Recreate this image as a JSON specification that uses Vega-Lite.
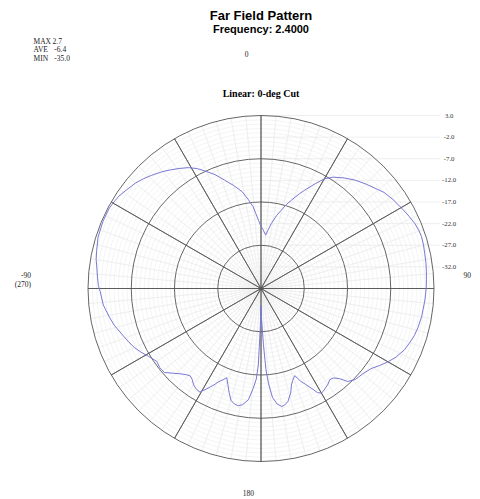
{
  "$schema": "https://vega.github.io/schema/vega-lite/v6.json",
  "width": 346,
  "height": 346,
  "autosize": "none",
  "padding": {"left": 88, "top": 115.5, "right": 46, "bottom": 37.5},
  "background": "white",
  "config": {"view": {"stroke": null}},
  "title": {"text": "Far Field Pattern", "subtitle": "Frequency: 2.4000", "font": "Liberation Sans", "fontSize": 13, "fontWeight": "bold", "color": "#000000", "subtitleFont": "Liberation Sans", "subtitleFontSize": 11, "subtitleFontWeight": "bold", "subtitleColor": "#000000", "anchor": "middle", "frame": "group", "offset": 3, "subtitlePadding": 1},
  "datasets": {
    "curve": [
      {"ang": 0, "db": -22.6}, {"ang": 2, "db": -23.4}, {"ang": 5, "db": -24.6}, {"ang": 7, "db": -23.3}, {"ang": 9, "db": -21.8},
      {"ang": 12, "db": -19.8}, {"ang": 14.5, "db": -18.3}, {"ang": 17, "db": -16.6}, {"ang": 19, "db": -15.4}, {"ang": 22, "db": -13.4},
      {"ang": 24, "db": -12.1}, {"ang": 27, "db": -10.0}, {"ang": 30, "db": -7.7}, {"ang": 33, "db": -6.3}, {"ang": 37, "db": -5.0},
      {"ang": 41, "db": -3.8}, {"ang": 45, "db": -2.8}, {"ang": 49, "db": -1.8}, {"ang": 52, "db": -0.9}, {"ang": 56, "db": -0.2},
      {"ang": 60, "db": 0.4}, {"ang": 64, "db": 1.1}, {"ang": 67, "db": 1.6}, {"ang": 70, "db": 1.9}, {"ang": 72, "db": 2.0},
      {"ang": 75, "db": 1.9}, {"ang": 78, "db": 1.7}, {"ang": 81, "db": 1.6}, {"ang": 84, "db": 1.45}, {"ang": 87, "db": 1.3},
      {"ang": 90, "db": 1.2}, {"ang": 94, "db": 1.0}, {"ang": 100, "db": 0.7}, {"ang": 104, "db": 0.4}, {"ang": 107, "db": 0.1},
      {"ang": 110, "db": -0.4}, {"ang": 113, "db": -0.9}, {"ang": 117, "db": -2.0}, {"ang": 120, "db": -3.1}, {"ang": 123, "db": -4.3},
      {"ang": 126, "db": -5.5}, {"ang": 130, "db": -6.3}, {"ang": 134, "db": -6.7}, {"ang": 137, "db": -7.6}, {"ang": 139, "db": -9.4},
      {"ang": 141, "db": -10.4}, {"ang": 143, "db": -10.6}, {"ang": 145, "db": -10.0}, {"ang": 147, "db": -9.6}, {"ang": 149, "db": -9.2},
      {"ang": 150, "db": -9.1}, {"ang": 151.5, "db": -9.6}, {"ang": 153, "db": -11.0}, {"ang": 155, "db": -12.5}, {"ang": 157, "db": -13.8},
      {"ang": 158.8, "db": -15.4}, {"ang": 160, "db": -15.0}, {"ang": 161, "db": -14.5}, {"ang": 162.5, "db": -13.6}, {"ang": 164, "db": -12.0},
      {"ang": 166.5, "db": -10.2}, {"ang": 168.5, "db": -9.5}, {"ang": 170, "db": -9.3}, {"ang": 172, "db": -10.0}, {"ang": 174, "db": -11.7},
      {"ang": 175.5, "db": -15.0}, {"ang": 176.5, "db": -18.2}, {"ang": 177.5, "db": -24.0}, {"ang": 179, "db": -30.0}, {"ang": 180, "db": -33.0},
      {"ang": 181, "db": -28.0}, {"ang": 182, "db": -19.3}, {"ang": 183, "db": -16.0}, {"ang": 184.5, "db": -13.8}, {"ang": 186.5, "db": -11.1},
      {"ang": 189, "db": -9.8}, {"ang": 191, "db": -9.4}, {"ang": 193, "db": -9.6}, {"ang": 195, "db": -10.2}, {"ang": 197, "db": -11.8},
      {"ang": 199, "db": -13.5}, {"ang": 201, "db": -14.9}, {"ang": 202.5, "db": -14.2}, {"ang": 204.5, "db": -13.3}, {"ang": 206, "db": -12.2},
      {"ang": 208, "db": -10.9}, {"ang": 210.5, "db": -9.2}, {"ang": 212.5, "db": -9.3}, {"ang": 215, "db": -9.8}, {"ang": 217, "db": -10.6},
      {"ang": 219, "db": -11.0}, {"ang": 221, "db": -10.6}, {"ang": 223, "db": -10.0}, {"ang": 226, "db": -8.8}, {"ang": 229, "db": -7.4},
      {"ang": 232, "db": -7.3}, {"ang": 235, "db": -7.6}, {"ang": 239, "db": -6.6}, {"ang": 242, "db": -5.6}, {"ang": 245, "db": -4.7},
      {"ang": 248, "db": -4.0}, {"ang": 252, "db": -3.1}, {"ang": 256, "db": -2.0}, {"ang": 259, "db": -1.4}, {"ang": 262, "db": -0.8},
      {"ang": 264, "db": -0.35}, {"ang": 269, "db": 0.2}, {"ang": 271, "db": 0.6}, {"ang": 274, "db": 0.9}, {"ang": 277.5, "db": 1.3},
      {"ang": 280, "db": 1.7}, {"ang": 283, "db": 2.0}, {"ang": 287.5, "db": 2.5}, {"ang": 293, "db": 2.7}, {"ang": 298, "db": 2.7},
      {"ang": 301, "db": 2.4}, {"ang": 303, "db": 2.2}, {"ang": 306, "db": 1.6}, {"ang": 310, "db": 0.9}, {"ang": 313, "db": 0.2},
      {"ang": 316, "db": -0.6}, {"ang": 320, "db": -1.7}, {"ang": 323, "db": -2.6}, {"ang": 326, "db": -3.5}, {"ang": 329, "db": -4.4},
      {"ang": 332, "db": -5.6}, {"ang": 334.5, "db": -6.9}, {"ang": 338, "db": -8.6}, {"ang": 341.5, "db": -10.6}, {"ang": 345, "db": -12.3},
      {"ang": 349, "db": -14.2}, {"ang": 352, "db": -16.3}, {"ang": 354.5, "db": -18.0}, {"ang": 356, "db": -19.6}, {"ang": 358, "db": -21.3},
      {"ang": 360, "db": -22.6}
    ],
    "minorRings": [
      {"r": 1}, {"r": 2}, {"r": 3}, {"r": 4}, {"r": 5}, {"r": 6}, {"r": 7}, {"r": 8}, {"r": 9},
      {"r": 11}, {"r": 12}, {"r": 13}, {"r": 14}, {"r": 15}, {"r": 16}, {"r": 17}, {"r": 18}, {"r": 19},
      {"r": 21}, {"r": 22}, {"r": 23}, {"r": 24}, {"r": 25}, {"r": 26}, {"r": 27}, {"r": 28}, {"r": 29},
      {"r": 31}, {"r": 32}, {"r": 33}, {"r": 34}, {"r": 35}, {"r": 36}, {"r": 37}, {"r": 38}, {"r": 39}
    ],
    "majorRings": [{"r": 10}, {"r": 20}, {"r": 30}, {"r": 40}],
    "spokes": [
      {"a": 0}, {"a": 30}, {"a": 60}, {"a": 90}, {"a": 120}, {"a": 150},
      {"a": 180}, {"a": 210}, {"a": 240}, {"a": 270}, {"a": 300}, {"a": 330}
    ],
    "minorSpokes": [
      {"a": 5}, {"a": 10}, {"a": 15}, {"a": 20}, {"a": 25}, {"a": 35}, {"a": 40}, {"a": 45}, {"a": 50}, {"a": 55},
      {"a": 65}, {"a": 70}, {"a": 75}, {"a": 80}, {"a": 85}, {"a": 95}, {"a": 100}, {"a": 105}, {"a": 110}, {"a": 115},
      {"a": 125}, {"a": 130}, {"a": 135}, {"a": 140}, {"a": 145}, {"a": 155}, {"a": 160}, {"a": 165}, {"a": 170}, {"a": 175},
      {"a": 185}, {"a": 190}, {"a": 195}, {"a": 200}, {"a": 205}, {"a": 215}, {"a": 220}, {"a": 225}, {"a": 230}, {"a": 235},
      {"a": 245}, {"a": 250}, {"a": 255}, {"a": 260}, {"a": 265}, {"a": 275}, {"a": 280}, {"a": 285}, {"a": 290}, {"a": 295},
      {"a": 305}, {"a": 310}, {"a": 315}, {"a": 320}, {"a": 325}, {"a": 335}, {"a": 340}, {"a": 345}, {"a": 350}, {"a": 355}
    ],
    "dbLabels": [
      {"r": 40, "label": "3.0"}, {"r": 35, "label": "-2.0"}, {"r": 30, "label": "-7.0"}, {"r": 25, "label": "-12.0"},
      {"r": 20, "label": "-17.0"}, {"r": 15, "label": "-22.0"}, {"r": 10, "label": "-27.0"}, {"r": 5, "label": "-32.0"}
    ],
    "one": [{}]
  },
  "layer": [
    {
      "data": {"name": "minorRings"},
      "mark": {"type": "arc", "theta": 0, "theta2": 6.283185307179586, "filled": false, "stroke": "#ececec", "strokeWidth": 0.6},
      "encoding": {"radius": {"field": "r", "type": "quantitative", "stack": null, "scale": {"type": "linear", "domain": [0, 40], "zero": true, "nice": false}}}
    },
    {
      "data": {"name": "minorSpokes"},
      "mark": {"type": "arc", "filled": false, "stroke": "#ececec", "strokeWidth": 0.6},
      "encoding": {
        "theta": {"field": "a", "type": "quantitative", "scale": {"domain": [0, 360], "range": [0, 6.283185307179586]}},
        "theta2": {"field": "a"},
        "radius": {"datum": 40, "type": "quantitative", "scale": {"type": "linear", "domain": [0, 40], "zero": true, "nice": false}}
      }
    },
    {
      "data": {"name": "dbLabels"},
      "mark": {"type": "rule", "stroke": "#e6e6e6", "strokeWidth": 0.7},
      "encoding": {
        "x": {"datum": 0, "type": "quantitative", "scale": {"domain": [-40, 40], "nice": false, "zero": false}, "axis": null},
        "x2": {"datum": 41.4},
        "y": {"field": "r", "type": "quantitative", "scale": {"domain": [-40, 40], "nice": false, "zero": false}, "axis": null}
      }
    },
    {
      "data": {"name": "majorRings"},
      "mark": {"type": "arc", "theta": 0, "theta2": 6.283185307179586, "filled": false, "stroke": "#555555", "strokeWidth": 0.9},
      "encoding": {"radius": {"field": "r", "type": "quantitative", "stack": null, "scale": {"type": "linear", "domain": [0, 40], "zero": true, "nice": false}}}
    },
    {
      "data": {"name": "spokes"},
      "mark": {"type": "arc", "filled": false, "stroke": "#555555", "strokeWidth": 0.8},
      "encoding": {
        "theta": {"field": "a", "type": "quantitative", "scale": {"domain": [0, 360], "range": [0, 6.283185307179586]}},
        "theta2": {"field": "a"},
        "radius": {"datum": 40, "type": "quantitative", "scale": {"type": "linear", "domain": [0, 40], "zero": true, "nice": false}}
      }
    },
    {
      "data": {"name": "curve"},
      "transform": [
        {"calculate": "(datum.db + 37) * sin(datum.ang * PI / 180)", "as": "px"},
        {"calculate": "(datum.db + 37) * cos(datum.ang * PI / 180)", "as": "py"}
      ],
      "mark": {"type": "line", "stroke": "#7878d4", "strokeWidth": 1},
      "encoding": {
        "x": {"field": "px", "type": "quantitative", "scale": {"domain": [-40, 40], "nice": false, "zero": false}, "axis": null},
        "y": {"field": "py", "type": "quantitative", "scale": {"domain": [-40, 40], "nice": false, "zero": false}, "axis": null},
        "order": {"field": "ang", "type": "quantitative"}
      }
    },
    {
      "data": {"name": "dbLabels"},
      "mark": {"type": "text", "font": "Liberation Serif", "fontSize": 6.8, "align": "center", "baseline": "middle", "color": "#333333"},
      "encoding": {
        "x": {"datum": 43.5, "type": "quantitative"},
        "y": {"field": "r", "type": "quantitative"},
        "text": {"field": "label"}
      }
    },
    {"data": {"name": "one"}, "mark": {"type": "text", "text": "MAX", "font": "Liberation Serif", "fontSize": 7.5, "align": "left", "baseline": "alphabetic", "color": "#222222"},
     "encoding": {"x": {"datum": -52.6, "type": "quantitative"}, "y": {"datum": 56.5, "type": "quantitative"}}},
    {"data": {"name": "one"}, "mark": {"type": "text", "text": "AVE", "font": "Liberation Serif", "fontSize": 7.5, "align": "left", "baseline": "alphabetic", "color": "#222222"},
     "encoding": {"x": {"datum": -52.6, "type": "quantitative"}, "y": {"datum": 54.6, "type": "quantitative"}}},
    {"data": {"name": "one"}, "mark": {"type": "text", "text": "MIN", "font": "Liberation Serif", "fontSize": 7.5, "align": "left", "baseline": "alphabetic", "color": "#222222"},
     "encoding": {"x": {"datum": -52.6, "type": "quantitative"}, "y": {"datum": 52.5, "type": "quantitative"}}},
    {"data": {"name": "one"}, "mark": {"type": "text", "text": "2.7", "font": "Liberation Serif", "fontSize": 7.5, "align": "left", "baseline": "alphabetic", "color": "#222222"},
     "encoding": {"x": {"datum": -48.2, "type": "quantitative"}, "y": {"datum": 56.5, "type": "quantitative"}}},
    {"data": {"name": "one"}, "mark": {"type": "text", "text": "-6.4", "font": "Liberation Serif", "fontSize": 7.5, "align": "left", "baseline": "alphabetic", "color": "#222222"},
     "encoding": {"x": {"datum": -47.8, "type": "quantitative"}, "y": {"datum": 54.6, "type": "quantitative"}}},
    {"data": {"name": "one"}, "mark": {"type": "text", "text": "-35.0", "font": "Liberation Serif", "fontSize": 7.5, "align": "left", "baseline": "alphabetic", "color": "#222222"},
     "encoding": {"x": {"datum": -47.8, "type": "quantitative"}, "y": {"datum": 52.5, "type": "quantitative"}}},
    {"data": {"name": "one"}, "mark": {"type": "text", "text": "0", "font": "Liberation Serif", "fontSize": 7.5, "align": "center", "baseline": "alphabetic", "color": "#222222"},
     "encoding": {"x": {"datum": -3.3, "type": "quantitative"}, "y": {"datum": 53.5, "type": "quantitative"}}},
    {"data": {"name": "one"}, "mark": {"type": "text", "text": "Linear: 0-deg Cut", "font": "Liberation Serif", "fontSize": 10, "fontWeight": "bold", "align": "center", "baseline": "alphabetic", "color": "#000000"},
     "encoding": {"x": {"datum": 0, "type": "quantitative"}, "y": {"datum": 44.35, "type": "quantitative"}}},
    {"data": {"name": "one"}, "mark": {"type": "text", "text": "90", "font": "Liberation Serif", "fontSize": 7.5, "align": "center", "baseline": "middle", "color": "#222222"},
     "encoding": {"x": {"datum": 47.7, "type": "quantitative"}, "y": {"datum": 2.96, "type": "quantitative"}}},
    {"data": {"name": "one"}, "mark": {"type": "text", "text": "-90", "font": "Liberation Serif", "fontSize": 7.5, "align": "right", "baseline": "middle", "color": "#222222"},
     "encoding": {"x": {"datum": -53.2, "type": "quantitative"}, "y": {"datum": 2.9, "type": "quantitative"}}},
    {"data": {"name": "one"}, "mark": {"type": "text", "text": "(270)", "font": "Liberation Serif", "fontSize": 7.5, "align": "right", "baseline": "middle", "color": "#222222"},
     "encoding": {"x": {"datum": -53.2, "type": "quantitative"}, "y": {"datum": 0.8, "type": "quantitative"}}},
    {"data": {"name": "one"}, "mark": {"type": "text", "text": "180", "font": "Liberation Serif", "fontSize": 7.5, "align": "center", "baseline": "middle", "color": "#222222"},
     "encoding": {"x": {"datum": -2.9, "type": "quantitative"}, "y": {"datum": -47.4, "type": "quantitative"}}}
  ]
}
